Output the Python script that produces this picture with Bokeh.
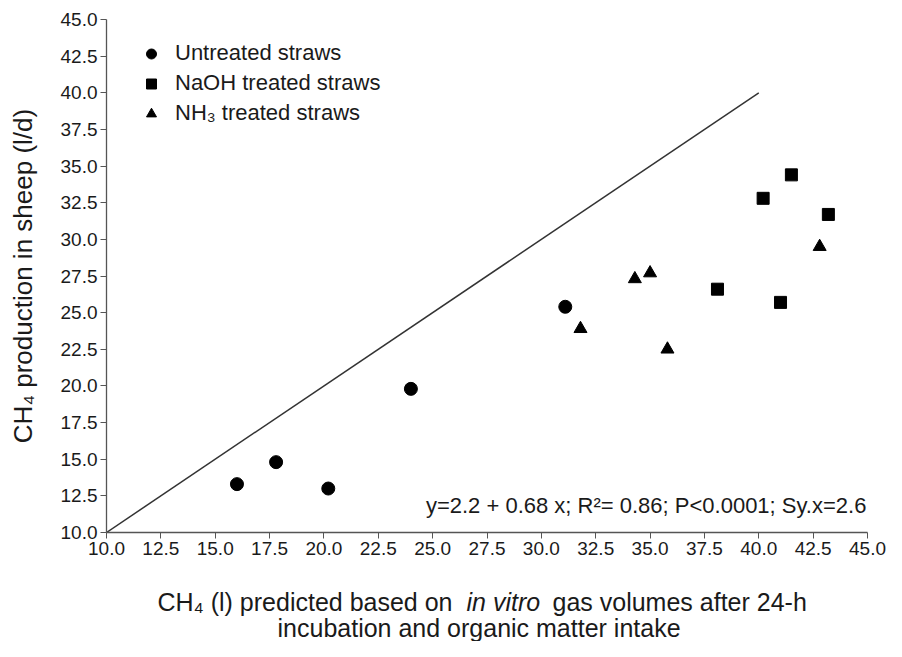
from bokeh.plotting import figure
from bokeh.layouts import column
from bokeh.models import Range1d, FixedTicker, NumeralTickFormatter, Label, Legend, LegendItem
from bokeh.embed import file_html
from bokeh.resources import INLINE

# ---- data ----
untreated_x = [16.0, 17.8, 20.2, 24.0, 31.1]
untreated_y = [13.3, 14.8, 13.0, 19.8, 25.4]
naoh_x = [40.2, 41.5, 43.2, 38.1, 41.0]
naoh_y = [32.8, 34.4, 31.7, 26.6, 25.7]
nh3_x = [31.8, 34.3, 35.0, 35.8, 42.8]
nh3_y = [23.9, 27.3, 27.7, 22.5, 29.5]
line_x = [10.0, 40.0]
line_y = [10.0, 40.0]
ticks = [10.0, 12.5, 15.0, 17.5, 20.0, 22.5, 25.0, 27.5, 30.0, 32.5, 35.0, 37.5, 40.0, 42.5, 45.0]
series_names = ["Untreated straws", "NaOH treated straws", "NH\u2083 treated straws"]
equation = "y=2.2 + 0.68 x; R\u00b2= 0.86; P<0.0001; Sy.x=2.6"
y_title = "CH\u2084 production in sheep (l/d)"
x_title_1a = "CH\u2084 (l) predicted based on"
x_title_1b = "in vitro"
x_title_1c = "gas volumes after 24-h"
x_title_2 = "incubation and  organic matter intake"

FONT = "Liberation Sans"
INK = "#1a1a1a"
W = 886
LEFT, RIGHT = 106, 19

p = figure(width=W, height=570, x_range=Range1d(10, 45), y_range=Range1d(10, 45),
           output_backend="svg", toolbar_location=None,
           min_border_left=LEFT, min_border_right=RIGHT, min_border_top=19, min_border_bottom=38)
p.background_fill_color = "white"
p.outline_line_color = None
p.xgrid.visible = False
p.ygrid.visible = False

for ax in (p.xaxis[0], p.yaxis[0]):
    ax.ticker = FixedTicker(ticks=ticks)
    ax.formatter = NumeralTickFormatter(format="0.0")
    ax.minor_tick_line_color = None
    ax.major_tick_in = 0
    ax.major_tick_out = 6
    ax.axis_line_color = "#555555"
    ax.major_tick_line_color = "#555555"
    ax.axis_line_width = 1.3
    ax.major_label_text_font = FONT
    ax.major_label_text_font_size = "19px"
    ax.major_label_text_color = INK

p.xaxis[0].major_label_standoff = 3
p.yaxis[0].major_label_standoff = 3
p.yaxis[0].axis_label = y_title
p.yaxis[0].axis_label_text_font = FONT
p.yaxis[0].axis_label_text_font_style = "normal"
p.yaxis[0].axis_label_text_font_size = "26px"
p.yaxis[0].axis_label_text_color = INK
p.yaxis[0].axis_label_standoff = 20

p.line(line_x, line_y, line_color="#333333", line_width=1.5)

r1 = p.scatter(untreated_x, untreated_y, marker="circle", size=13, fill_color="black", line_color="black")
r2 = p.scatter(naoh_x, naoh_y, marker="square", size=12, fill_color="black", line_color="black")
r3 = p.scatter(nh3_x, nh3_y, marker="triangle", size=13, fill_color="black", line_color="black")

legend = Legend(items=[LegendItem(label=series_names[0], renderers=[r1]),
                       LegendItem(label=series_names[1], renderers=[r2]),
                       LegendItem(label=series_names[2], renderers=[r3])],
                location="top_left")
legend.border_line_color = None
legend.background_fill_alpha = 0
legend.label_text_font = FONT
legend.label_text_font_size = "22px"
legend.label_text_color = INK
legend.margin = 21
legend.padding = 0
legend.glyph_width = 48
legend.glyph_height = 25
legend.label_height = 25
legend.label_standoff = -7
legend.spacing = 4
p.add_layout(legend)

p.add_layout(Label(x=44.95, y=11.84, text=equation, text_align="right", text_baseline="middle",
                   text_font=FONT, text_font_size="22px", text_color=INK))

# x axis title (two lines, with an italic part), drawn in a strip below the plot;
# its x range is in canvas pixels so the pieces can be placed next to each other
p2 = figure(width=W, height=71, x_range=Range1d(LEFT, W - RIGHT), y_range=Range1d(71, 0),
            output_backend="svg", toolbar_location=None,
            x_axis_location=None, y_axis_location=None,
            min_border_left=LEFT, min_border_right=RIGHT, min_border_top=0, min_border_bottom=0)
p2.outline_line_color = None
p2.xgrid.visible = False
p2.ygrid.visible = False

TS = "25px"
p2.add_layout(Label(x=452, y=31, text=x_title_1a, text_align="right", text_baseline="middle",
                    text_font=FONT, text_font_size=TS, text_color=INK))
p2.add_layout(Label(x=466, y=31, text=x_title_1b, text_align="left", text_baseline="middle",
                    text_font=FONT, text_font_size=TS, text_font_style="italic", text_color=INK))
p2.add_layout(Label(x=552, y=31, text=x_title_1c, text_align="left", text_baseline="middle",
                    text_font=FONT, text_font_size=TS, text_color=INK))
p2.add_layout(Label(x=482, y=57, text=x_title_2, text_align="center", text_baseline="middle",
                    text_font=FONT, text_font_size=TS, text_color=INK))

open("out.html", "w").write(file_html(column(p, p2, spacing=0), INLINE))
